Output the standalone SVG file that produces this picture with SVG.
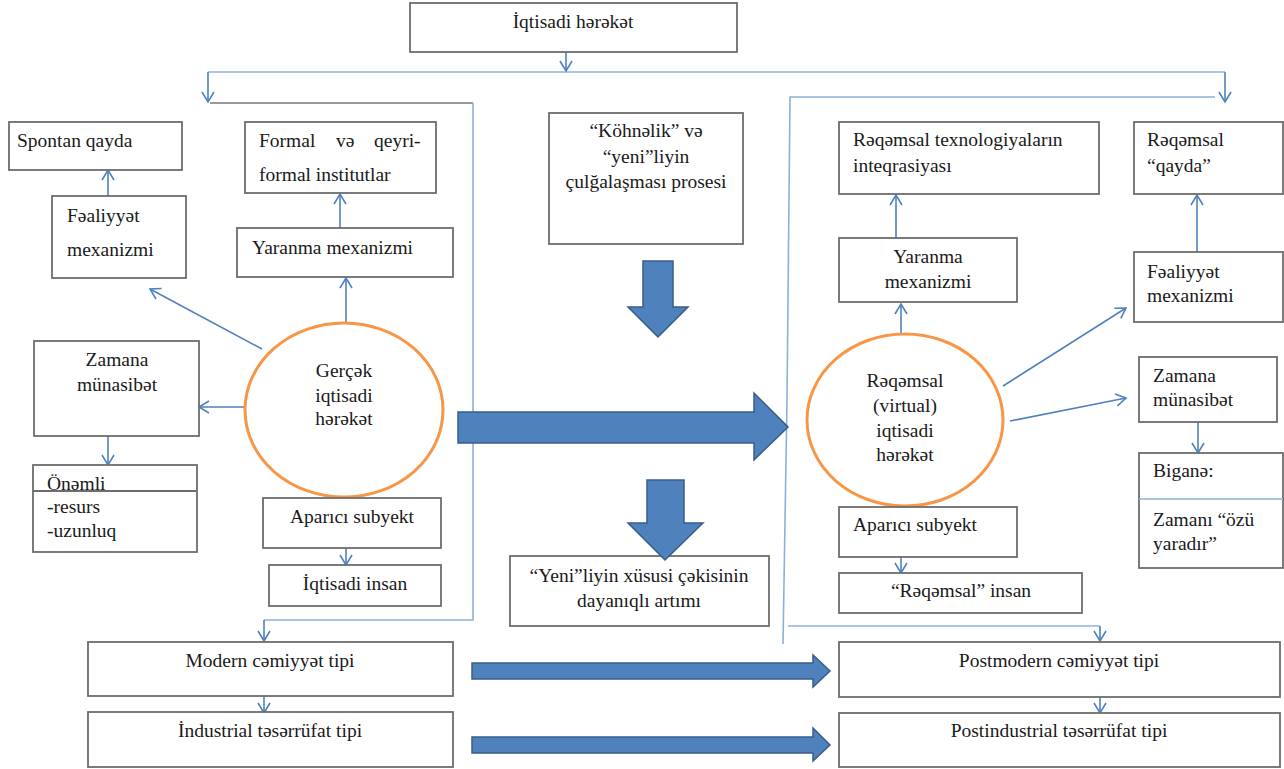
<svg xmlns="http://www.w3.org/2000/svg" width="1284" height="769" viewBox="0 0 1284 769">
<style>
.box{fill:#fff;stroke:#6d6d6d;stroke-width:1.8}
.t{font-family:"Liberation Serif","Times New Roman",serif;font-size:19.5px;fill:#1a1a1a}
.m{text-anchor:middle}
.c{stroke:#4F81BD;stroke-width:1.6;fill:none}
.reg{stroke:#8DB0DB;stroke-width:1.6;fill:none}
.ell{fill:#fff;stroke:#F79646;stroke-width:3}
.blk{fill:#4F81BD;stroke:#385D8A;stroke-width:1.5}
</style>
<defs>
<marker id="a" markerUnits="userSpaceOnUse" markerWidth="16" markerHeight="16" refX="11" refY="7" orient="auto">
<path d="M1,1 L11,7 L1,13" fill="none" stroke="#4F81BD" stroke-width="1.6"/>
</marker>
</defs>
<rect width="1284" height="769" fill="#fff"/>

<g id="connectors">
<path class="reg" d="M208,72 H1225"/>
<path class="c" d="M566,38 V71" marker-end="url(#a)"/>
<path class="c" d="M208,72 V102" marker-end="url(#a)"/>
<path class="c" d="M1225,72 V102" marker-end="url(#a)"/>
<path d="M210,103 H473" stroke="#777" stroke-width="1.6" fill="none"/>
<path class="reg" d="M473,103 V620 H264"/>
<path class="c" d="M264,620 V641" marker-end="url(#a)"/>
<path class="reg" d="M1215,97 H790 L787,400 L783,644"/>
<path class="reg" d="M788,626 H1100"/>
<path class="c" d="M1100,626 V641" marker-end="url(#a)"/>
<path class="c" d="M108,196 V170" marker-end="url(#a)"/>
<path class="c" d="M340,228 V194" marker-end="url(#a)"/>
<path class="c" d="M346,323 V278" marker-end="url(#a)"/>
<path class="c" d="M262,349 L150,289" marker-end="url(#a)"/>
<path class="c" d="M245,407 H199" marker-end="url(#a)"/>
<path class="c" d="M108,436 V465" marker-end="url(#a)"/>
<path class="c" d="M346,484 V498" marker-end="url(#a)"/>
<path class="c" d="M346,548 V565" marker-end="url(#a)"/>
<path class="c" d="M264,696 V713" marker-end="url(#a)"/>
<path class="c" d="M1100,697 V713" marker-end="url(#a)"/>
<path class="c" d="M896,238 V195" marker-end="url(#a)"/>
<path class="c" d="M901,336 V304" marker-end="url(#a)"/>
<path class="c" d="M1197,252 V195" marker-end="url(#a)"/>
<path class="c" d="M1003,386 L1126,308" marker-end="url(#a)"/>
<path class="c" d="M1010,421 L1126,398" marker-end="url(#a)"/>
<path class="c" d="M1198,422 V453" marker-end="url(#a)"/>
<path class="c" d="M901,557 V573" marker-end="url(#a)"/>
</g>

<g id="n-top"><rect class="box" x="410" y="3" width="327" height="49"/><text class="t m" x="573" y="28">İqtisadi hərəkət</text></g>

<g id="n-spontan"><rect class="box" x="9" y="122" width="173" height="48"/><text class="t" x="17" y="147">Spontan qayda</text></g>
<g id="n-fealiyyet-l"><rect class="box" x="52" y="196" width="134" height="82"/><text class="t" x="67" y="222">Fəaliyyət</text><text class="t" x="67" y="256">mexanizmi</text></g>
<g id="n-formal"><rect class="box" x="245" y="122" width="191" height="71"/><text class="t" y="147"><tspan x="259">Formal</tspan><tspan x="336">və</tspan><tspan x="374">qeyri-</tspan></text><text class="t" x="259" y="181">formal institutlar</text></g>
<g id="n-yaranma-l"><rect class="box" x="237" y="228" width="216" height="49"/><text class="t" x="252" y="254">Yaranma mexanizmi</text></g>
<g id="n-gercek"><ellipse class="ell" cx="344" cy="410" rx="99" ry="87"/><text class="t m" x="344" y="377">Gerçək</text><text class="t m" x="344" y="402">iqtisadi</text><text class="t m" x="344" y="425">hərəkət</text></g>
<g id="n-zamana-l"><rect class="box" x="34" y="341" width="165" height="95"/><text class="t m" x="117" y="366">Zamana</text><text class="t m" x="117" y="391">münasibət</text></g>
<g id="n-onemli"><rect class="box" x="33" y="465" width="164" height="87"/><text class="t" x="47" y="490">Önəmli</text><path d="M33,491 H197" stroke="#6d6d6d" stroke-width="1.8"/><text class="t" x="47" y="513">-resurs</text><text class="t" x="47" y="537">-uzunluq</text></g>
<g id="n-aparici-l"><rect class="box" x="263" y="498" width="178" height="50"/><text class="t m" x="352" y="523">Aparıcı subyekt</text></g>
<g id="n-insan-l"><rect class="box" x="269" y="565" width="172" height="41"/><text class="t m" x="355" y="590">İqtisadi insan</text></g>

<g id="n-kohnelik"><rect class="box" x="549" y="113" width="194" height="131"/><text class="t m" x="646" y="137">“Köhnəlik” və</text><text class="t m" x="646" y="163">“yeni”liyin</text><text class="t m" x="646" y="188">çulğalaşması prosesi</text></g>
<g id="n-yeni"><rect class="box" x="510" y="556" width="259" height="70"/><text class="t m" x="639" y="582">“Yeni”liyin xüsusi çəkisinin</text><text class="t m" x="639" y="607">dayanıqlı artımı</text></g>

<g id="n-texno"><rect class="box" x="839" y="122" width="260" height="72"/><text class="t" x="853" y="146">Rəqəmsal texnologiyaların</text><text class="t" x="853" y="172">inteqrasiyası</text></g>
<g id="n-qayda"><rect class="box" x="1134" y="122" width="149" height="72"/><text class="t" x="1147" y="146">Rəqəmsal</text><text class="t" x="1147" y="172">“qayda”</text></g>
<g id="n-yaranma-r"><rect class="box" x="839" y="238" width="178" height="64"/><text class="t m" x="928" y="263">Yaranma</text><text class="t m" x="928" y="288">mexanizmi</text></g>
<g id="n-fealiyyet-r"><rect class="box" x="1134" y="252" width="149" height="70"/><text class="t" x="1147" y="278">Fəaliyyət</text><text class="t" x="1147" y="302">mexanizmi</text></g>
<g id="n-reqemsal"><ellipse class="ell" cx="905" cy="420" rx="98" ry="86"/><text class="t m" x="905" y="387">Rəqəmsal</text><text class="t m" x="905" y="412">(virtual)</text><text class="t m" x="905" y="437">iqtisadi</text><text class="t m" x="905" y="461">hərəkət</text></g>
<g id="n-zamana-r"><rect class="box" x="1139" y="357" width="138" height="65"/><text class="t" x="1153" y="382">Zamana</text><text class="t" x="1153" y="406">münasibət</text></g>
<g id="n-bigane"><rect class="box" x="1139" y="453" width="144" height="115"/><path d="M1139,499 H1283" stroke="#8DB0DB" stroke-width="1.6"/><text class="t" x="1153" y="477">Biganə:</text><text class="t" x="1153" y="526">Zamanı “özü</text><text class="t" x="1153" y="550">yaradır”</text></g>
<g id="n-aparici-r"><rect class="box" x="839" y="507" width="178" height="50"/><text class="t" x="853" y="531">Aparıcı subyekt</text></g>
<g id="n-insan-r"><rect class="box" x="839" y="573" width="243" height="40"/><text class="t m" x="961" y="597">“Rəqəmsal” insan</text></g>

<g id="n-modern"><rect class="box" x="88" y="642" width="365" height="54"/><text class="t m" x="270" y="667">Modern cəmiyyət tipi</text></g>
<g id="n-industrial"><rect class="box" x="88" y="712" width="365" height="55"/><text class="t m" x="270" y="737">İndustrial təsərrüfat tipi</text></g>
<g id="n-postmodern"><rect class="box" x="839" y="642" width="441" height="55"/><text class="t m" x="1059" y="667">Postmodern cəmiyyət tipi</text></g>
<g id="n-postindustrial"><rect class="box" x="839" y="713" width="441" height="54"/><text class="t m" x="1059" y="737">Postindustrial təsərrüfat tipi</text></g>

<g id="block-arrows">
<polygon class="blk" points="643,261 673,261 673,307 688,307 658,337 628,307 643,307"/>
<polygon class="blk" points="458,412 754,412 754,393 788,427 754,460 754,443 458,443"/>
<polygon class="blk" points="647,480 684,480 684,523 703,523 665,560 628,523 647,523"/>
<polygon class="blk" points="472,663 813,663 813,655 830,671 813,687 813,679 472,679"/>
<polygon class="blk" points="472,737 813,737 813,728 830,745 813,761 813,753 472,753"/>
</g>
</svg>
